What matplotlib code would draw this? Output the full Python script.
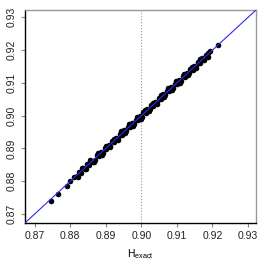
import numpy as np
import matplotlib.pyplot as plt

plt.rcParams["font.family"] = ["Liberation Sans", "DejaVu Sans"]

# Dados — H estimado vs H exato
h_exact = [0.8745, 0.8765, 0.8790, 0.8800, 0.8812, 0.8818, 0.8825, 0.8830,
           0.8836, 0.8842, 0.8848, 0.8853, 0.8858, 0.8864, 0.8870, 0.8875,
           0.8880, 0.8886, 0.8891, 0.8897, 0.8902, 0.8908, 0.8913, 0.8918,
           0.8924, 0.8929, 0.8935, 0.8940, 0.8946, 0.8951, 0.8957, 0.8962,
           0.8968, 0.8973, 0.8979, 0.8984, 0.8990, 0.8995, 0.9001, 0.9006,
           0.9012, 0.9017, 0.9023, 0.9028, 0.9034, 0.9039, 0.9045, 0.9050,
           0.9056, 0.9061, 0.9067, 0.9072, 0.9078, 0.9083, 0.9089, 0.9094,
           0.9100, 0.9105, 0.9111, 0.9116, 0.9122, 0.9127, 0.9133, 0.9138,
           0.9144, 0.9149, 0.9155, 0.9160, 0.9166, 0.9171, 0.9177, 0.9182,
           0.9188, 0.9193, 0.9215,
           # segunda nuvem (mais dispersa)
           0.8822, 0.8833, 0.8845, 0.8856, 0.8867, 0.8878, 0.8889, 0.8900,
           0.8911, 0.8922, 0.8933, 0.8944, 0.8955, 0.8966, 0.8977, 0.8988,
           0.8999, 0.9010, 0.9021, 0.9032, 0.9043, 0.9054, 0.9065, 0.9076,
           0.9087, 0.9098, 0.9109, 0.9120, 0.9131, 0.9142, 0.9153, 0.9164,
           0.9175, 0.9186]
h_est = [0.8740, 0.8762, 0.8785, 0.8801, 0.8814, 0.8815, 0.8829, 0.8826,
         0.8840, 0.8838, 0.8852, 0.8849, 0.8862, 0.8860, 0.8866, 0.8879,
         0.8876, 0.8890, 0.8887, 0.8900, 0.8898, 0.8911, 0.8909, 0.8922,
         0.8920, 0.8932, 0.8931, 0.8944, 0.8942, 0.8955, 0.8953, 0.8966,
         0.8964, 0.8977, 0.8975, 0.8988, 0.8986, 0.8999, 0.8997, 0.9010,
         0.9008, 0.9021, 0.9019, 0.9032, 0.9030, 0.9043, 0.9041, 0.9054,
         0.9052, 0.9065, 0.9063, 0.9076, 0.9074, 0.9087, 0.9085, 0.9098,
         0.9096, 0.9109, 0.9107, 0.9120, 0.9118, 0.9131, 0.9129, 0.9142,
         0.9140, 0.9153, 0.9151, 0.9164, 0.9162, 0.9175, 0.9173, 0.9186,
         0.9190, 0.9196, 0.9215,
         0.8814, 0.8841, 0.8837, 0.8864, 0.8859, 0.8886, 0.8881, 0.8908,
         0.8903, 0.8930, 0.8925, 0.8952, 0.8947, 0.8974, 0.8969, 0.8996,
         0.8991, 0.9018, 0.9013, 0.9040, 0.9035, 0.9062, 0.9057, 0.9084,
         0.9079, 0.9106, 0.9101, 0.9128, 0.9123, 0.9150, 0.9145, 0.9172,
         0.9169, 0.9180]
h_ref = 0.90
ticks = [0.87, 0.88, 0.89, 0.90, 0.91, 0.92, 0.93]

fig = plt.figure(figsize=(2.66, 2.66), dpi=100)
ax = fig.add_axes([0.094, 0.162, 0.868, 0.800])

lims = (0.8673, 0.9322)
ax.axvline(h_ref, color="#999999", ls=":", lw=0.8)
ax.scatter(h_exact, h_est, s=16, color="black", zorder=2, linewidths=0)
ax.plot(lims, lims, color="#2a2aff", lw=0.8, zorder=3)

ax.set_xlim(lims); ax.set_ylim(lims)
ax.set_xticks(ticks); ax.set_yticks(ticks)
ax.set_xticklabels([f"{t:.2f}" for t in ticks], fontsize=7.5)
ax.set_yticklabels([f"{t:.2f}" for t in ticks], fontsize=7.5,
                   rotation=90, va="center")
ax.tick_params(length=3, width=0.8, color="#888888", pad=3,
               labelcolor="#222222")
for s in ["top", "right"]:
    ax.spines[s].set_color("#999999")
    ax.spines[s].set_linewidth(1.0)
for s in ["left", "bottom"]:
    ax.spines[s].set_color("black")
    ax.spines[s].set_linewidth(1.0)
ax.set_xlabel("H$_{\\mathregular{exact}}$", fontsize=7.5, labelpad=4)

fig.savefig("out.png", dpi=100)
